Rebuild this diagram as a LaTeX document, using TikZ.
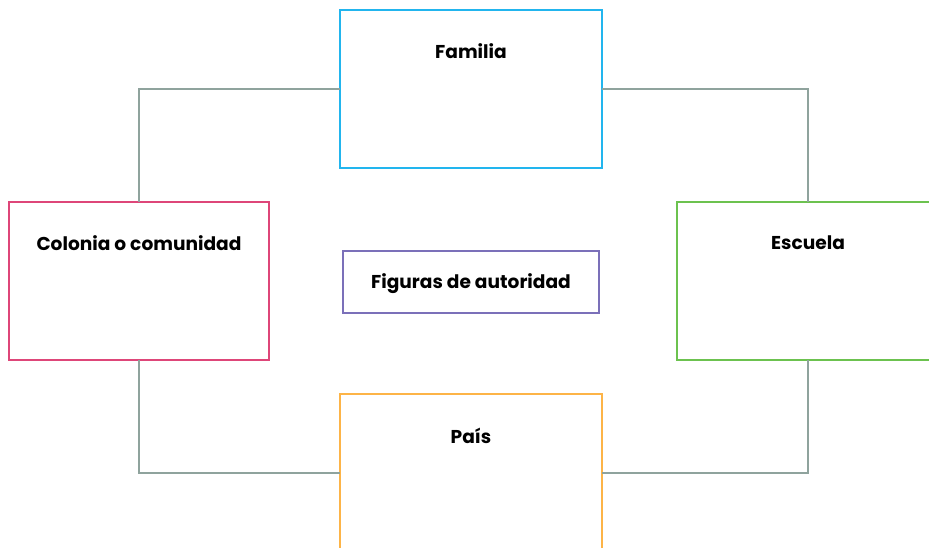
\documentclass[tikz,border=0pt]{standalone}
\usepackage{fontspec}
\setmainfont{Poppins}
\definecolor{cfam}{HTML}{22B5EE}
\definecolor{ccol}{HTML}{DE4679}
\definecolor{cesc}{HTML}{6CC24F}
\definecolor{cpai}{HTML}{FDB447}
\definecolor{cfig}{HTML}{7B70B9}
\definecolor{cline}{HTML}{8FA39D}
\begin{document}
\begin{tikzpicture}[x=1pt,y=-1pt,
  box/.style={draw, line width=1.6pt, fill=white, minimum width=#1, inner sep=0pt, outer sep=0pt},
  bigbox/.style={box=262pt, minimum height=158pt},
  txt/.style={font=\fontsize{18.6}{21}\selectfont\bfseries, text=black, inner sep=0pt},
  conn/.style={draw=cline, line width=1.6pt}]
\clip (0,0) rectangle (929,547);
\fill[white] (0,0) rectangle (929,547);
\node[bigbox, draw=cfam] (fam) at (471,89) {};
\node[bigbox, draw=ccol, minimum width=260pt] (col) at (139,281) {};
\node[bigbox, draw=cesc] (esc) at (808,281) {};
\node[bigbox, draw=cpai] (pai) at (471,473) {};
\node[box=256pt, minimum height=62pt, draw=cfig] (fig) at (471,282) {};
\node[txt] (tfam) at (471,51) {Familia};
\node[txt] (tcol) at (139,243) {Colonia o comunidad};
\node[txt] (tesc) at (808,243) {Escuela};
\node[txt] (tpai) at (471,436) {País};
\node[txt] (tfig) at (471,284) {Figuras de autoridad};
\draw[conn] (fam.west) -- (fam.west -| col.north) -- (col.north);
\draw[conn] (fam.east) -- (fam.east -| esc.north) -- (esc.north);
\draw[conn] (col.south) -- (col.south |- pai.west) -- (pai.west);
\draw[conn] (esc.south) -- (esc.south |- pai.east) -- (pai.east);
\end{tikzpicture}
\end{document}
